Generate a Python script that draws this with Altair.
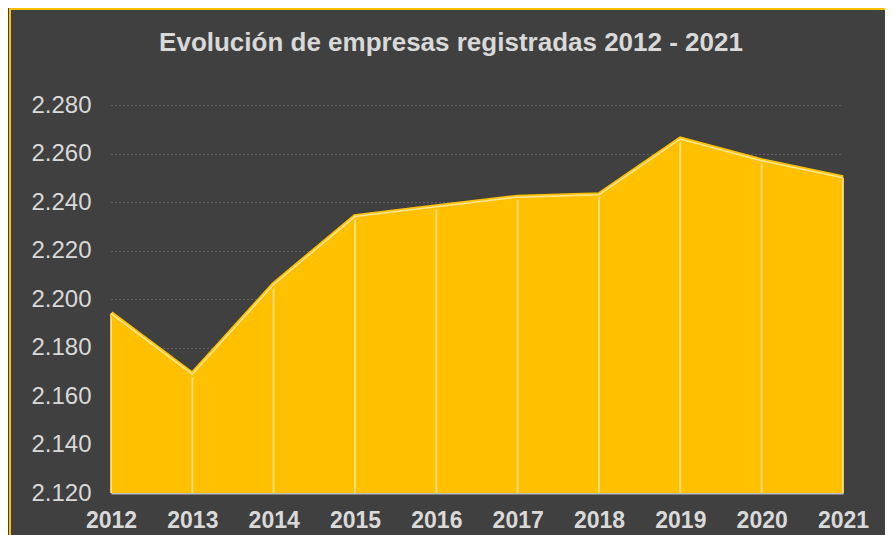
import altair as alt
import pandas as pd

years = [2012, 2013, 2014, 2015, 2016, 2017, 2018, 2019, 2020, 2021]
empresas = [2194, 2169, 2206, 2234, 2238, 2242, 2243, 2266, 2257, 2250]
y_ticks = [2120, 2140, 2160, 2180, 2200, 2220, 2240, 2260, 2280]
base_value = 2120

df = pd.DataFrame({"year": years, "value": empresas, "base": [base_value] * len(years)})

label_expr = "replace(format(datum.value, ','), ',', '.')"

x = alt.X("year:Q", scale=alt.Scale(domain=[2012, 2021], nice=False, zero=False),
          axis=alt.Axis(values=years, format="d", title=None, labelFontWeight="bold",
                        labelFontSize=23, labelColor="#d9d9d9", labelPadding=16,
                        labelFlush=False, labelOverlap=False,
                        ticks=False, domain=True, domainColor="#bfbfbf", domainWidth=2,
                        grid=False, labelFont="Liberation Sans"))
y = alt.Y("value:Q", scale=alt.Scale(domain=[2120, 2280], nice=False, zero=False),
          axis=alt.Axis(values=y_ticks, labelExpr=label_expr, title=None, labelFontSize=24,
                        labelColor="#d9d9d9", labelPadding=20, ticks=False, domain=False,
                        grid=True, gridColor="#808080", gridDash=[1, 3], gridWidth=1,
                        labelFont="Liberation Sans", labelOverlap=False))

base = alt.Chart(df)

area = base.mark_area(color="#FFC000", opacity=1).encode(x=x, y=y, y2="base:Q")
drops = base.mark_rule(color="#FFE08A", strokeWidth=2, opacity=0.85).encode(x="year:Q", y="value:Q", y2="base:Q")
edge = base.mark_line(color="#FFC000", strokeWidth=5).encode(x="year:Q", y="value:Q")
top = base.mark_line(color="#FFE699", strokeWidth=1.5).encode(x="year:Q", y="value:Q")

border_left = alt.Chart(pd.DataFrame({"k": [0]})).mark_rule(color="#FFC000", strokeWidth=2).encode(
    x=alt.value(-101), y=alt.value(-97), y2=alt.value(460))
border_top = alt.Chart(pd.DataFrame({"k": [0]})).mark_rule(color="#FFC000", strokeWidth=2).encode(
    x=alt.value(-102), x2=alt.value(780), y=alt.value(-96))

chart = alt.layer(area, drops, edge, top, border_left, border_top).properties(
    width=732, height=388,
    padding={"left": 103, "top": 97, "right": 42, "bottom": 60},
    autosize=alt.AutoSizeParams(type="none"),
    background="#404040",
    title=alt.TitleParams("Evolución de empresas registradas 2012 - 2021", fontSize=26,
                          fontWeight="bold", color="#d9d9d9", font="Liberation Sans",
                          anchor="middle", dx=-26, offset=-49),
).configure_view(stroke=None)

chart.save("out.html", embed_options={"renderer": "svg", "actions": False})
